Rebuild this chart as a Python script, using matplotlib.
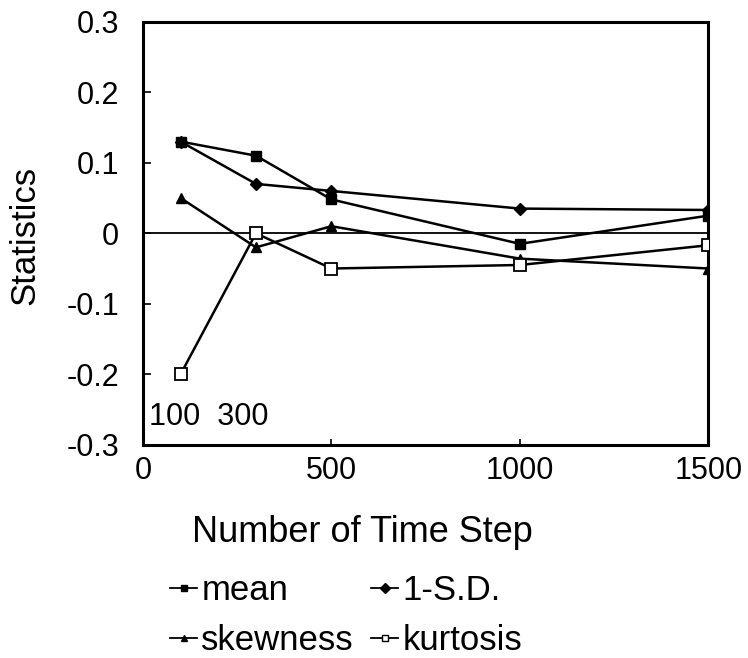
import matplotlib
matplotlib.use("Agg")
import matplotlib.pyplot as plt
from matplotlib.lines import Line2D

plt.rcParams['font.family'] = ['Liberation Sans', 'DejaVu Sans']

steps = [100, 300, 500, 1000, 1500]
mean = [0.13, 0.11, 0.048, -0.015, 0.025]
sd1 = [0.13, 0.07, 0.06, 0.035, 0.033]
skewness = [0.05, -0.02, 0.01, -0.036, -0.05]
kurtosis = [-0.2, 0.0, -0.05, -0.045, -0.017]

xticks = [0, 500, 1000, 1500]
yticks = [-0.3, -0.2, -0.1, 0, 0.1, 0.2, 0.3]
ytick_labels = ['-0.3', '-0.2', '-0.1', '0', '0.1', '0.2', '0.3']

fig = plt.figure(figsize=(7.48, 6.58), dpi=100)
ax = fig.add_axes([0.191, 0.324, 0.756, 0.643])

lw = 1.8
ax.axhline(0, color='black', lw=1.3, zorder=1)
ax.plot(steps, mean, color='black', lw=lw, marker='s', ms=7, mfc='black', mec='black', zorder=3)
ax.plot(steps, sd1, color='black', lw=lw, marker='D', ms=6, mfc='black', mec='black', zorder=3)
ax.plot(steps, skewness, color='black', lw=lw, marker='^', ms=7, mfc='black', mec='black', zorder=3)
ax.plot(steps, kurtosis, color='black', lw=lw, marker='s', ms=8, mfc='white', mec='black', mew=1.3, zorder=4)

ax.set_xlim(0, 1500)
ax.set_ylim(-0.3, 0.3)
ax.set_xticks(xticks)
ax.set_xticklabels([str(t) for t in xticks], fontsize=22)
ax.set_yticks(yticks)
ax.set_yticklabels(ytick_labels, fontsize=22)
ax.tick_params(axis='y', direction='in', length=6, width=1.2, pad=17)
ax.tick_params(axis='x', direction='in', length=4, width=1.2, pad=8)
for s in ax.spines.values():
    s.set_linewidth(2.2)

ax.text(17, -0.26, '100  300', fontsize=22, ha='left', va='center')

ax.set_xlabel('Number of Time Step', fontsize=26)
ax.xaxis.set_label_coords(0.388, -0.166)
ax.set_ylabel('Statistics', fontsize=25)
ax.yaxis.set_label_coords(-0.179, 0.494)

def h(marker, ms, mfc):
    return Line2D([], [], color='black', lw=1.3, marker=marker, ms=ms, mfc=mfc, mec='black')

# row-major order: mean, 1-S.D. / skewness, kurtosis (matplotlib fills by column)
handles = [h('s', 5, 'black'), h('^', 5, 'black'), h('D', 5, 'black'), h('s', 5, 'white')]
labels = ['mean', 'skewness', '1-S.D.', 'kurtosis']
fig.legend(handles, labels, loc='upper left', bbox_to_anchor=(170 / 748, 1 - 574 / 658), ncol=2,
           frameon=False, fontsize=25, handlelength=0.78, handletextpad=0.12,
           columnspacing=0.5, labelspacing=0.48, borderaxespad=0, borderpad=0)

fig.savefig('out.png', dpi=100)
